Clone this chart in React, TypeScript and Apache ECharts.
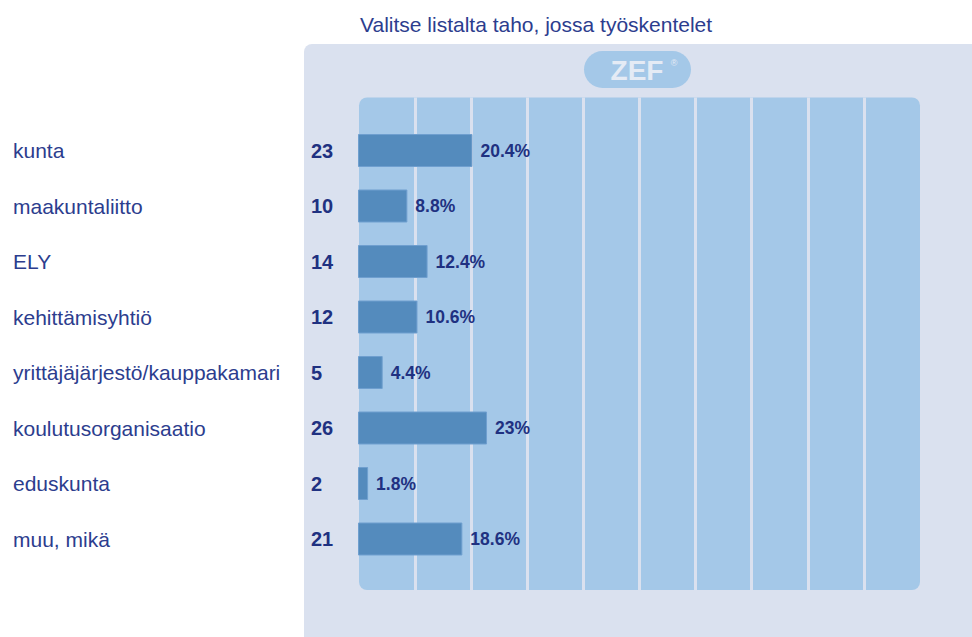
import React, { useEffect, useRef } from "react";
import * as echarts from "echarts";

const categories = [
  "kunta",
  "maakuntaliitto",
  "ELY",
  "kehittämisyhtiö",
  "yrittäjäjärjestö/kauppakamari",
  "koulutusorganisaatio",
  "eduskunta",
  "muu, mikä",
];
const counts = [23, 10, 14, 12, 5, 26, 2, 21];
const percents = [20.4, 8.8, 12.4, 10.6, 4.4, 23, 1.8, 18.6];
const titleText = "Valitse listalta taho, jossa työskentelet";

const PANEL = "#dae1ef";
const GRIDBG = "#a4c8e8";
const BAR = "#548bbd";
const NAVY = "#2c3d8e";
const NAVY_BOLD = "#1f3181";
const FONT = "'Liberation Sans', Arial, sans-serif";

export default function App() {
  const ref = useRef<HTMLDivElement>(null);
  useEffect(() => {
    document.body.style.margin = "0";
    const chart = echarts.init(ref.current!, undefined, { renderer: "svg" });
    chart.setOption({
      animation: false,
      backgroundColor: "#ffffff",
      title: {
        text: titleText,
        left: 355,
        top: 9,
        textStyle: { fontSize: 21, fontWeight: "normal", color: NAVY, fontFamily: FONT },
      },
      graphic: [
        {
          type: "rect",
          z: -100,
          silent: true,
          shape: { x: 304, y: 44, width: 720, height: 660, r: 8 },
          style: { fill: PANEL },
        },
        {
          type: "rect",
          z: -90,
          silent: true,
          shape: { x: 359, y: 97.5, width: 561, height: 492.5, r: 8 },
          style: { fill: GRIDBG },
        },
        {
          type: "rect",
          z: -90,
          silent: true,
          shape: { x: 584, y: 51, width: 107, height: 37, r: 18.5 },
          style: { fill: GRIDBG },
        },
        {
          type: "text",
          z: -80,
          silent: true,
          x: 637,
          y: 70,
          style: {
            text: "ZEF",
            fill: "#e4ebf5",
            font: `bold 28px ${FONT}`,
            textAlign: "center",
            textVerticalAlign: "middle",
          },
        },
        {
          type: "text",
          z: -80,
          silent: true,
          x: 674,
          y: 63,
          style: {
            text: "®",
            fill: "#e4ebf5",
            font: `9px ${FONT}`,
            textAlign: "center",
            textVerticalAlign: "middle",
          },
        },
      ],
      grid: [
        { left: 359, top: 97.5, width: 561, height: 492.5, show: false },
        { left: 358, top: 122.75, width: 561, height: 444, show: false },
      ],
      xAxis: [
        {
          gridIndex: 0,
          type: "value",
          min: 0,
          max: 100,
          interval: 10,
          axisLine: { show: false },
          axisTick: { show: false },
          axisLabel: { show: false },
          splitLine: {
            show: true,
            showMinLine: false,
            showMaxLine: false,
            lineStyle: { color: PANEL, width: 3 },
          },
        },
        { gridIndex: 1, type: "value", min: 0, max: 100, show: false },
      ],
      yAxis: [
        { gridIndex: 0, type: "value", show: false },
        {
          gridIndex: 1,
          type: "category",
          data: categories,
          inverse: true,
          axisLine: { show: false },
          axisTick: { show: false },
          splitLine: { show: false },
          axisLabel: {
            margin: 345,
            align: "left",
            formatter: (v: string, i: number) => `{a|${v}}{b|${counts[i]}}`,
            rich: {
              a: { width: 298, fontSize: 21, color: NAVY, fontFamily: FONT },
              b: { fontSize: 20, fontWeight: "bold", color: NAVY_BOLD, fontFamily: FONT },
            },
          },
        },
      ],
      series: [
        {
          type: "bar",
          xAxisIndex: 1,
          yAxisIndex: 1,
          data: percents,
          barWidth: 33,
          itemStyle: { color: BAR, borderColor: "#6f9fcf", borderWidth: 1 },
          label: {
            show: true,
            position: "right",
            distance: 8,
            formatter: (p: any) => `${p.value}%`,
            fontSize: 17.5,
            fontWeight: "bold",
            color: NAVY_BOLD,
            fontFamily: FONT,
          },
        },
      ],
    });
    return () => chart.dispose();
  }, []);
  return <div ref={ref} style={{ width: 972, height: 637 }} />;
}
